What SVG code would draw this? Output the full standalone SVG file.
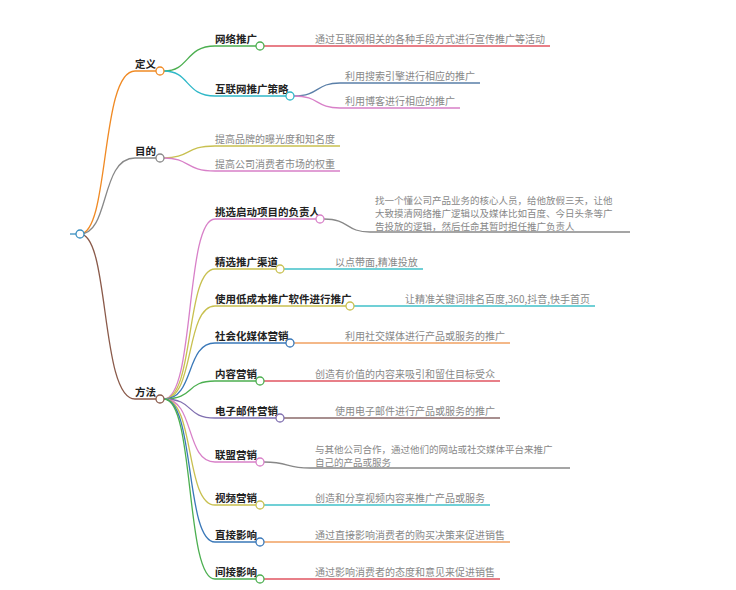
<svg xmlns="http://www.w3.org/2000/svg" width="736" height="590" viewBox="0 0 736 590">
<style>
.b{font-family:"Noto Sans CJK SC",sans-serif;font-size:10.5px;font-weight:bold;fill:#222}
.t{font-family:"Noto Sans CJK SC",sans-serif;font-size:10px;fill:#888}
.m{font-size:9.5px}
path,line{fill:none;stroke-width:1.3}
circle{fill:#fff;stroke-width:1.3}
</style>
<rect width="736" height="590" fill="#fff"/>
<g id="connectors">
<line x1="70" y1="234" x2="76" y2="234" stroke="#3a8fc0"/>
<path d="M80 234 C110 234 100 71 135 71 H156" stroke="#f08a24"/>
<path d="M80 234 C110 234 100 158 135 158 H156" stroke="#888"/>
<path d="M80 234 C110 234 100 399 135 399 H156" stroke="#8a5a4a"/>
<path d="M164 71 C190 71 185 46 215 46 H256" stroke="#4caf50"/>
<path d="M264 46 H550" stroke="#e05560"/>
<path d="M164 71 C190 71 185 96 215 96 H286" stroke="#30b8c8"/>
<path d="M294 96 C320 96 315 83 340 83 H480" stroke="#5a7fa8"/>
<path d="M294 96 C320 96 315 108 340 108 H460" stroke="#d880c8"/>
<path d="M164 158 C190 158 185 146 215 146 H340" stroke="#c8c050"/>
<path d="M164 158 C190 158 185 171 215 171 H340" stroke="#d880c8"/>
<path d="M164 399 C195 399 185 219 215 219 H316" stroke="#d880c8"/>
<path d="M324 219 C350 219 345 232 370 232 H630" stroke="#888"/>
<path d="M164 399 C195 399 185 269 215 269 H276" stroke="#c8c050"/>
<path d="M284 269 H423" stroke="#40c0c8"/>
<path d="M164 399 C195 399 185 306 215 306 H346" stroke="#c8c050"/>
<path d="M354 306 H595" stroke="#40c0c8"/>
<path d="M164 399 C195 399 185 343 215 343 H286" stroke="#3a78b8"/>
<path d="M294 343 H510" stroke="#f0a060"/>
<path d="M164 399 C195 399 185 381 215 381 H256" stroke="#4caf50"/>
<path d="M264 381 H500" stroke="#e05560"/>
<path d="M164 399 C195 399 185 418 215 418 H276" stroke="#8070b0"/>
<path d="M284 418 H500" stroke="#8a6a6a"/>
<path d="M164 399 C195 399 185 462 215 462 H256" stroke="#d880c8"/>
<path d="M264 462 C290 462 285 468 310 468 H570" stroke="#888"/>
<path d="M164 399 C195 399 185 505 215 505 H256" stroke="#c8c050"/>
<path d="M264 505 H490" stroke="#40c0c8"/>
<path d="M164 399 C195 399 185 542 215 542 H256" stroke="#3a78b8"/>
<path d="M264 542 H510" stroke="#f0a060"/>
<path d="M164 399 C195 399 185 579 215 579 H256" stroke="#4caf50"/>
<path d="M264 579 H500" stroke="#e05560"/>
</g>
<g id="root"><circle cx="80" cy="234" r="4" stroke="#3a8fc0"/></g>
<g id="n-dingyi"><text class="b" x="135" y="68">定义</text><circle cx="160" cy="71" r="4" stroke="#f08a24"/></g>
<g id="n-mudi"><text class="b" x="135" y="155">目的</text><circle cx="160" cy="158" r="4" stroke="#888"/></g>
<g id="n-fangfa"><text class="b" x="135" y="396">方法</text><circle cx="160" cy="399" r="4" stroke="#8a5a4a"/></g>
<g id="n1"><text class="b" x="215" y="43">网络推广</text><circle cx="260" cy="46" r="4" stroke="#4caf50"/><text class="t" x="315" y="43">通过互联网相关的各种手段方式进行宣传推广等活动</text></g>
<g id="n2"><text class="b" x="215" y="93">互联网推广策略</text><circle cx="290" cy="96" r="4" stroke="#30b8c8"/><text class="t" x="345" y="80">利用搜索引擎进行相应的推广</text><text class="t" x="345" y="105">利用博客进行相应的推广</text></g>
<g id="n3"><text class="t" x="215" y="143">提高品牌的曝光度和知名度</text><text class="t" x="215" y="168">提高公司消费者市场的权重</text></g>
<g id="n4"><text class="b" x="215" y="216">挑选启动项目的负责人</text><circle cx="320" cy="219" r="4" stroke="#d880c8"/><text class="t m" x="375" y="204">找一个懂公司产品业务的核心人员，给他放假三天，让他</text><text class="t m" x="375" y="217">大致摸清网络推广逻辑以及媒体比如百度、今日头条等广</text><text class="t m" x="375" y="230">告投放的逻辑，然后任命其暂时担任推广负责人</text></g>
<g id="n5"><text class="b" x="215" y="266">精选推广渠道</text><circle cx="280" cy="269" r="4" stroke="#c8c050"/><text class="t" x="335" y="266">以点带面,精准投放</text></g>
<g id="n6"><text class="b" x="215" y="303">使用低成本推广软件进行推广</text><circle cx="350" cy="306" r="4" stroke="#c8c050"/><text class="t" x="405" y="303">让精准关键词排名百度,360,抖音,快手首页</text></g>
<g id="n7"><text class="b" x="215" y="340">社会化媒体营销</text><circle cx="290" cy="343" r="4" stroke="#3a78b8"/><text class="t" x="345" y="340">利用社交媒体进行产品或服务的推广</text></g>
<g id="n8"><text class="b" x="215" y="378">内容营销</text><circle cx="260" cy="381" r="4" stroke="#4caf50"/><text class="t" x="315" y="378">创造有价值的内容来吸引和留住目标受众</text></g>
<g id="n9"><text class="b" x="215" y="415">电子邮件营销</text><circle cx="280" cy="418" r="4" stroke="#8070b0"/><text class="t" x="335" y="415">使用电子邮件进行产品或服务的推广</text></g>
<g id="n10"><text class="b" x="215" y="459">联盟营销</text><circle cx="260" cy="462" r="4" stroke="#d880c8"/><text class="t m" x="315" y="453">与其他公司合作，通过他们的网站或社交媒体平台来推广</text><text class="t m" x="315" y="466">自己的产品或服务</text></g>
<g id="n11"><text class="b" x="215" y="502">视频营销</text><circle cx="260" cy="505" r="4" stroke="#c8c050"/><text class="t" x="315" y="502">创造和分享视频内容来推广产品或服务</text></g>
<g id="n12"><text class="b" x="215" y="539">直接影响</text><circle cx="260" cy="542" r="4" stroke="#3a78b8"/><text class="t" x="315" y="539">通过直接影响消费者的购买决策来促进销售</text></g>
<g id="n13"><text class="b" x="215" y="576">间接影响</text><circle cx="260" cy="579" r="4" stroke="#4caf50"/><text class="t" x="315" y="576">通过影响消费者的态度和意见来促进销售</text></g>
</svg>
